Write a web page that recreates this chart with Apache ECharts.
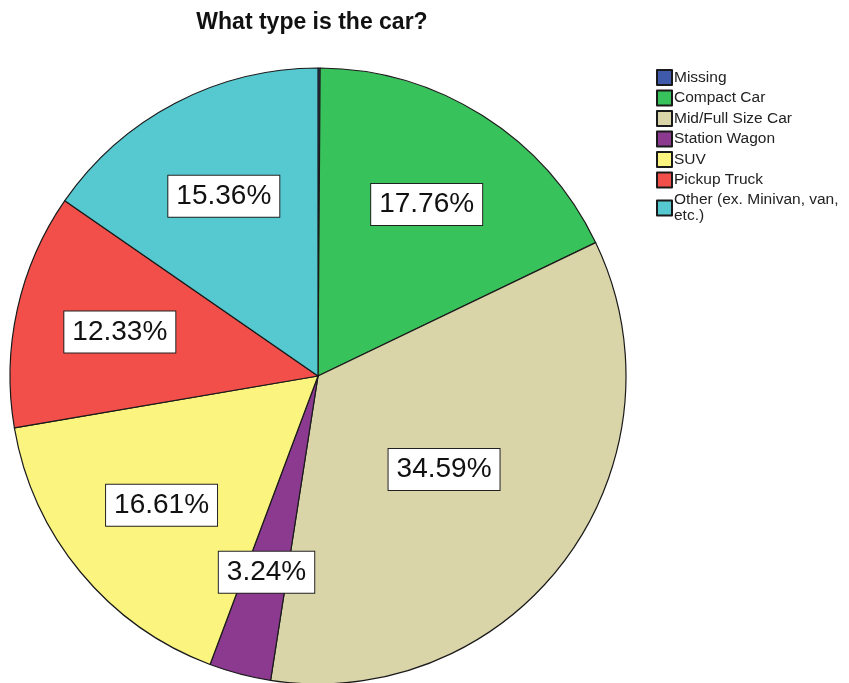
<!DOCTYPE html>
<html>
<head>
<meta charset="utf-8">
<script src="https://cdn.jsdelivr.net/npm/echarts@6/dist/echarts.min.js"></script>
<style>
  html, body { margin: 0; padding: 0; background: #ffffff; }
  #chart { width: 849px; height: 683px; }
</style>
</head>
<body>
<div id="chart"></div>
<script>
// Car type shares (percent)
const categories = ['Missing', 'Compact Car', 'Mid/Full Size Car', 'Station Wagon', 'SUV', 'Pickup Truck', 'Other (ex. Minivan, van, etc.)'];
const shares = [0.11, 17.76, 34.59, 3.24, 16.61, 12.33, 15.36];
const colors = ['#3f5aab', '#38c25b', '#dad4a9', '#8c3a90', '#fbf57f', '#f24f4a', '#56c8d0'];

const center = [318, 376];
const pieRadius = 308;

const labelBox = {
  color: '#111',
  fontFamily: 'Liberation Sans, Arial, sans-serif',
  fontSize: 28,
  backgroundColor: '#ffffff',
  borderColor: '#222',
  borderWidth: 1,
  padding: [7, 8, 6, 8]
};

const fmt = p => p.value.toFixed(2) + '%';

const chart = echarts.init(document.getElementById('chart'));
chart.setOption({
  animation: false,
  backgroundColor: '#ffffff',
  title: {
    text: 'What type is the car?',
    left: 307,
    top: 6,
    textAlign: 'center',
    textStyle: { fontFamily: 'Liberation Sans, Arial, sans-serif', fontSize: 23, fontWeight: 'bold', color: '#111' }
  },
  legend: {
    orient: 'vertical',
    left: 656,
    top: 69,
    padding: 0,
    itemWidth: 15,
    itemHeight: 15,
    itemGap: 3.5,
    icon: 'rect',
    data: categories,
    formatter: name => name === 'Other (ex. Minivan, van, etc.)' ? 'Other (ex. Minivan, van,\netc.)' : name,
    textStyle: { fontFamily: 'Liberation Sans, Arial, sans-serif', fontSize: 15.5, color: '#222', padding: [0, 0, 0, -3], lineHeight: 16 }
  },
  series: [
    {
      // visible slices
      type: 'pie',
      center: center,
      radius: [0, pieRadius],
      startAngle: 90,
      clockwise: true,
      silent: true,
      data: categories.map((c, i) => ({
        name: c,
        value: shares[i],
        itemStyle: { color: colors[i] },
        // the largest slice carries its own label at mid radius
        label: i === 2 ? Object.assign({ show: true, position: 'inside', formatter: fmt }, labelBox) : { show: false }
      })),
      itemStyle: { borderColor: '#1a1a1a', borderWidth: 1.2 },
      labelLine: { show: false },
      emphasis: { disabled: true }
    },
    {
      // transparent ring used only to place the remaining labels further out
      type: 'pie',
      center: center,
      radius: [0, 400],
      startAngle: 90,
      clockwise: true,
      silent: true,
      legendHoverLink: false,
      data: categories.map((c, i) => ({
        name: c,
        value: shares[i],
        label: (i === 0 || i === 2) ? { show: false } : Object.assign({ show: true, position: 'inside', formatter: fmt }, labelBox)
      })),
      itemStyle: { color: 'rgba(0,0,0,0)', borderWidth: 0 },
      labelLine: { show: false },
      emphasis: { disabled: true },
      z: 3
    }
  ]
});
</script>
</body>
</html>
